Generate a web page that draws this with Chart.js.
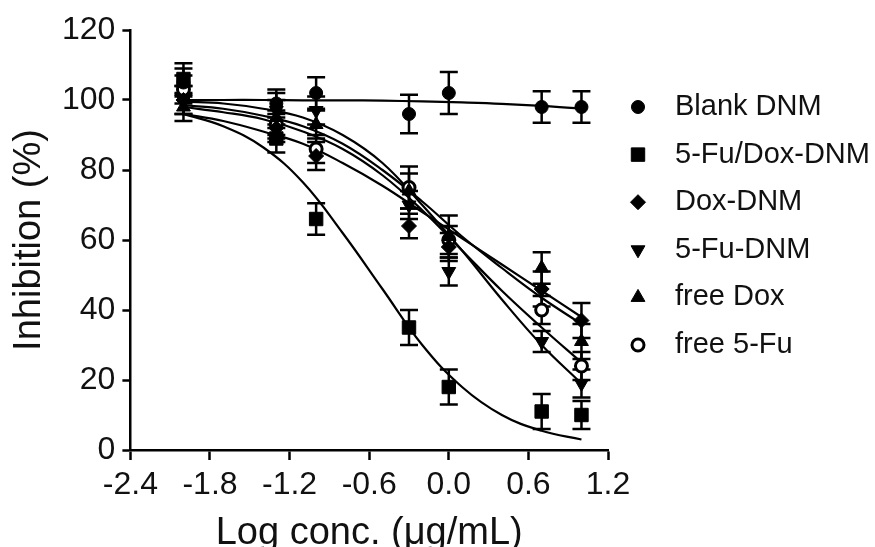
<!DOCTYPE html>
<html>
<head>
<meta charset="utf-8">
<title>Inhibition vs log concentration</title>
<script src="https://cdn.jsdelivr.net/npm/chart.js@4.4.1/dist/chart.umd.min.js"></script>
<style>
  html, body { margin: 0; padding: 0; background: #fff; }
  #wrap { width: 875px; height: 547px; position: relative; }
</style>
</head>
<body>
<div id="wrap"><canvas id="chart"></canvas></div>
<script>
// measured concentrations, log10(ug/mL)
const logConc = [-2, -1.3, -1, -0.3, 0, 0.7, 1];

const seriesNames = ['Blank DNM', '5-Fu/Dox-DNM', 'Dox-DNM', '5-Fu-DNM', 'free Dox', 'free 5-Fu'];

// mean inhibition (%)
const blankDNM = [105, 99, 102, 96, 102, 98, 98];
const fuDoxDNM = [106, 89, 66, 35, 18, 11, 10];
const doxDNM   = [100, 92, 84, 64, 58, 46, 37];
const fuDNM    = [100, 97, 97, 70, 51, 31, 19];
const freeDox  = [98, 95, 93, 74, 61, 52, 31];
const freeFu   = [103, 93, 86, 75, 60, 40, 24];

// error bars (+/-)
const blankDNMErr = [4, 4, 4.5, 5.5, 6, 4.5, 4.5];
const fuDoxDNMErr = [4.5, 4, 4.5, 5, 5, 5, 4];
const doxDNMErr   = [4, 4, 4, 3.5, 4, 5, 5];
const fuDNMErr    = [4, 5, 4, 4, 4, 3, 4];
const freeDoxErr  = [4, 5, 4, 5, 6, 4.5, 5];
const freeFuErr   = [4, 4, 4, 6, 4, 4, 4];

// fitted dose-response curves
const fitConc     = [-2, -1.7, -1.4, -1.1, -0.8, -0.5, -0.2, 0.1, 0.4, 0.7, 1];
const blankDNMFit = [100, 100, 100, 99.9, 99.9, 99.8, 99.6, 99.3, 98.9, 98.3, 97.5];
const fuDoxDNMFit = [96, 92.5, 86.5, 76.5, 62, 46, 30, 18, 10, 5.5, 3];
const doxDNMFit   = [96, 94, 91, 87.5, 82, 75.5, 68, 60.5, 53, 45.5, 38];
const fuDNMFit    = [99.5, 99, 97.5, 95, 90, 82, 70, 57, 43, 30, 19];
const freeDoxFit  = [98.5, 97.5, 95.5, 92.5, 87.5, 80, 71, 61, 52, 43.5, 36];
const freeFuFit   = [98, 96.5, 94.5, 91, 86, 78.5, 68.5, 57, 45.5, 35, 25];

const xTicks = [-2.4, -1.8, -1.2, -0.6, 0, 0.6, 1.2];
const yTicks = [0, 20, 40, 60, 80, 100, 120];

const toPoints = (xs, ys) => xs.map((x, i) => ({ x, y: ys[i] }));

const markerStyles = [
  { pointStyle: 'circle',   pointRadius: 6.5, rotation: 0,   bg: '#000', bw: 1 },
  { pointStyle: 'rect',     pointRadius: 9.5, rotation: 0,   bg: '#000', bw: 1 },
  { pointStyle: 'rectRot',  pointRadius: 7.5, rotation: 0,   bg: '#000', bw: 1 },
  { pointStyle: 'triangle', pointRadius: 8,   rotation: 180, bg: '#000', bw: 1 },
  { pointStyle: 'triangle', pointRadius: 8,   rotation: 0,   bg: '#000', bw: 1 },
  { pointStyle: 'circle',   pointRadius: 6,   rotation: 0,   bg: '#fff', bw: 3 }
];

const means = [blankDNM, fuDoxDNM, doxDNM, fuDNM, freeDox, freeFu];
const errs = [blankDNMErr, fuDoxDNMErr, doxDNMErr, fuDNMErr, freeDoxErr, freeFuErr];
const fits = [blankDNMFit, fuDoxDNMFit, doxDNMFit, fuDNMFit, freeDoxFit, freeFuFit];

const datasets = [];
means.forEach((m, i) => {
  const s = markerStyles[i];
  datasets.push({
    label: seriesNames[i],
    data: toPoints(logConc, m),
    errors: errs[i],
    legendRow: i,
    showLine: false,
    pointStyle: s.pointStyle,
    pointRadius: s.pointRadius,
    pointRotation: s.rotation,
    pointBackgroundColor: s.bg,
    pointBorderColor: '#000',
    pointBorderWidth: s.bw,
    order: 0
  });
});
fits.forEach((f, i) => {
  datasets.push({
    label: seriesNames[i] + ' fit',
    data: toPoints(fitConc, f),
    showLine: true,
    borderColor: '#000',
    borderWidth: 2.2,
    pointRadius: 0,
    tension: 0.4,
    order: 1
  });
});

// error bars drawn through the chart's scales
const errorBars = {
  id: 'errorBars',
  beforeDatasetsDraw(chart) {
    const { ctx, scales: { x, y } } = chart;
    ctx.save();
    ctx.strokeStyle = '#000';
    ctx.lineWidth = 2.5;
    chart.data.datasets.forEach(ds => {
      if (!ds.errors) return;
      ds.data.forEach((p, i) => {
        const px = x.getPixelForValue(p.x);
        const top = y.getPixelForValue(p.y + ds.errors[i]);
        const bot = y.getPixelForValue(p.y - ds.errors[i]);
        ctx.beginPath();
        ctx.moveTo(px, top); ctx.lineTo(px, bot);
        ctx.moveTo(px - 9, top); ctx.lineTo(px + 9, top);
        ctx.moveTo(px - 9, bot); ctx.lineTo(px + 9, bot);
        ctx.stroke();
      });
    });
    ctx.restore();
  }
};

// side legend (markers + names)
const sideLegend = {
  id: 'sideLegend',
  afterDraw(chart) {
    const ctx = chart.ctx;
    ctx.save();
    ctx.font = '29px "Liberation Sans", Arial, sans-serif';
    ctx.textBaseline = 'middle';
    chart.data.datasets.forEach(ds => {
      if (ds.legendRow === undefined) return;
      const y = 107 + ds.legendRow * 47.6;
      ctx.fillStyle = ds.pointBackgroundColor;
      ctx.strokeStyle = '#000';
      ctx.lineWidth = ds.pointBorderWidth;
      Chart.helpers.drawPoint(ctx, {
        pointStyle: ds.pointStyle,
        rotation: ds.pointRotation,
        radius: ds.pointRadius,
        borderWidth: ds.pointBorderWidth
      }, 638, y);
      ctx.fillStyle = '#111';
      ctx.fillText(ds.label, 675, y);
    });
    ctx.restore();
  }
};

Chart.defaults.font.family = '"Liberation Sans", Arial, sans-serif';
Chart.defaults.color = '#111';

new Chart(document.getElementById('chart'), {
  type: 'scatter',
  data: { datasets },
  options: {
    responsive: true,
    maintainAspectRatio: false,
    animation: false,
    layout: { padding: { left: 7, top: 30, right: 267, bottom: -9.4 } },
    plugins: {
      legend: { display: false },
      tooltip: { enabled: false }
    },
    scales: {
      x: {
        type: 'linear',
        min: -2.4,
        max: 1.2,
        afterBuildTicks: s => { s.ticks = xTicks.map(v => ({ value: v })); },
        ticks: {
          font: { size: 32 },
          padding: 6,
          color: '#111',
          callback: v => Number(v).toFixed(1)
        },
        grid: { drawOnChartArea: false, drawTicks: true, tickLength: 10, tickWidth: 2.5, tickColor: '#000', color: '#000' },
        border: { display: true, color: '#000', width: 2.5 },
        title: { display: true, text: 'Log conc. (μg/mL)', font: { size: 38, lineHeight: 1 }, padding: { top: 4, bottom: 4 }, color: '#111' }
      },
      y: {
        min: 0,
        max: 120,
        afterBuildTicks: s => { s.ticks = yTicks.map(v => ({ value: v })); },
        ticks: { font: { size: 32 }, padding: 7, color: '#111' },
        grid: { drawOnChartArea: false, drawTicks: true, tickLength: 8, tickWidth: 2.5, tickColor: '#000', color: '#000' },
        border: { display: true, color: '#000', width: 2.5 },
        title: { display: true, text: 'Inhibition (%)', font: { size: 38, lineHeight: 1 }, padding: { top: 4, bottom: 6 }, color: '#111' }
      }
    }
  },
  plugins: [errorBars, sideLegend]
});
</script>
</body>
</html>
